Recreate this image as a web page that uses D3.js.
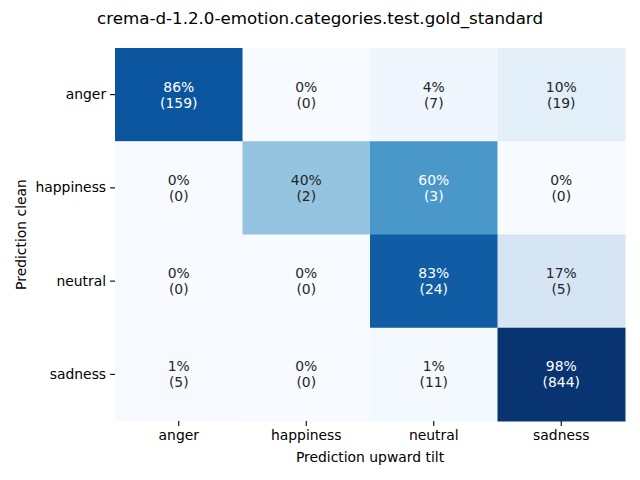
<!DOCTYPE html>
<html><head><meta charset="utf-8">
<script src="https://cdn.jsdelivr.net/npm/d3@7"></script>
<style>body{margin:0;background:#fff;} svg{display:block;} text{font-family:"DejaVu Sans",sans-serif;}</style>
</head><body>
<script>
const title = "crema-d-1.2.0-emotion.categories.test.gold_standard";
const xCategories = ["anger","happiness","neutral","sadness"];
const yCategories = ["anger","happiness","neutral","sadness"];
const xLabel = "Prediction upward tilt";
const yLabel = "Prediction clean";
const countsAnger = [159, 0, 7, 19];
const countsHappiness = [0, 2, 3, 0];
const countsNeutral = [0, 0, 24, 5];
const countsSadness = [5, 0, 11, 844];
const counts = [countsAnger, countsHappiness, countsNeutral, countsSadness];
const bluesStops = ["#f7fbff","#deebf7","#c6dbef","#9ecae1","#6baed6","#4292c6","#2171b5","#08519c","#08306b"];

const W = 640, H = 480;
const m = {left:115, right:15, top:48, bottom:59};
const svg = d3.select("body").append("svg").attr("width",W).attr("height",H);

const x = d3.scaleBand().domain(xCategories).range([m.left, W-m.right]);
const y = d3.scaleBand().domain(yCategories).range([m.top, H-m.bottom]);
const color = d3.scaleLinear().domain(d3.range(9).map(i=>i/8)).range(bluesStops).interpolate(d3.interpolateRgb).clamp(true);

const cells = [];
counts.forEach((row,i)=>{
  const tot = d3.sum(row);
  row.forEach((c,j)=>{
    cells.push({r:yCategories[i], c:xCategories[j], n:c, p: tot? c/tot : 0});
  });
});

function lum(col){
  const rgb = d3.rgb(col);
  const f = v=>{v/=255; return v<=0.03928? v/12.92 : Math.pow((v+0.055)/1.055,2.4);};
  return 0.2126*f(rgb.r)+0.7152*f(rgb.g)+0.0722*f(rgb.b);
}

svg.append("g").selectAll("rect").data(cells).join("rect")
  .attr("x",d=>x(d.c)).attr("y",d=>y(d.r))
  .attr("width",x.bandwidth()+0.5).attr("height",y.bandwidth()+0.5)
  .attr("fill",d=>color(d.p));

const ann = svg.append("g").selectAll("text").data(cells).join("text")
  .attr("text-anchor","middle")
  .attr("font-size","13.9px")
  .attr("fill",d=> lum(color(d.p))>0.408 ? "#262626" : "#ffffff");
ann.append("tspan").attr("x",d=>x(d.c)+x.bandwidth()/2).attr("y",d=>y(d.r)+y.bandwidth()/2-3)
  .text(d=>Math.round(d.p*100)+"%");
ann.append("tspan").attr("x",d=>x(d.c)+x.bandwidth()/2).attr("y",d=>y(d.r)+y.bandwidth()/2+13)
  .text(d=>"("+d.n+")");

const xAxis = svg.append("g").attr("transform",`translate(0,${H-m.bottom})`)
  .call(d3.axisBottom(x).tickSize(4.9).tickPadding(4));
const yAxis = svg.append("g").attr("transform",`translate(${m.left},0)`)
  .call(d3.axisLeft(y).tickSize(4.9).tickPadding(4));
[xAxis,yAxis].forEach(a=>{
  a.select(".domain").remove();
  a.selectAll(".tick line").attr("stroke","#000").attr("stroke-width",1.1);
  a.selectAll(".tick text").attr("font-size","13.9px").attr("fill","#000").style("font-family","DejaVu Sans");
});

svg.append("text").attr("x",(m.left+W-m.right)/2).attr("y",462)
  .attr("text-anchor","middle").attr("font-size","13.9px").text(xLabel);
svg.append("text").attr("transform",`translate(26,${(m.top+H-m.bottom)/2}) rotate(-90)`)
  .attr("text-anchor","middle").attr("font-size","13.9px").text(yLabel);
svg.append("text").attr("x",W/2).attr("y",24)
  .attr("text-anchor","middle").attr("font-size","16.7px").text(title);
</script>
</body></html>
